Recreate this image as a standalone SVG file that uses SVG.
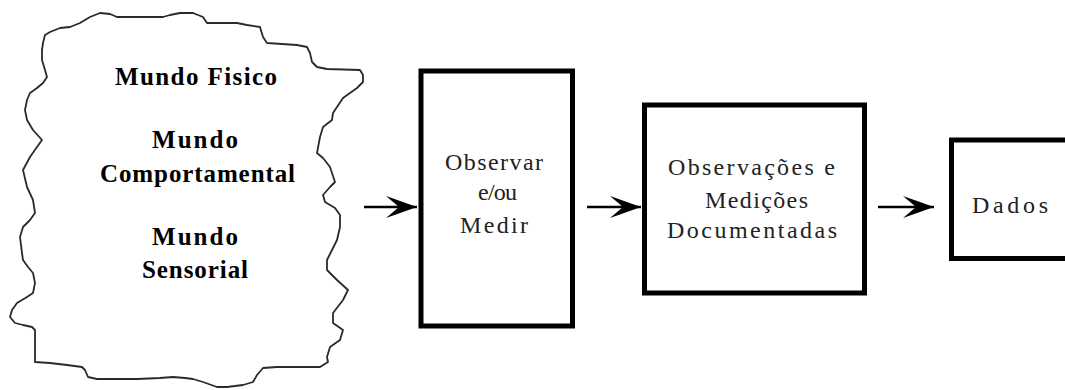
<svg xmlns="http://www.w3.org/2000/svg" width="1065" height="390" viewBox="0 0 1065 390">
  <style>
    .cloud { fill: none; stroke: #2a2a2a; stroke-width: 1.8; stroke-linejoin: round; stroke-linecap: round; }
    .box { fill: #fff; stroke: #000; stroke-width: 5; }
    .edge { stroke: #000; stroke-width: 2.6; fill: none; }
  </style>
  <defs>
    <marker id="arrowhead" markerUnits="userSpaceOnUse" markerWidth="34" markerHeight="26" refX="0" refY="0" viewBox="-32 -13 34 26" orient="auto" overflow="visible">
      <path d="M0,0 L-31,-11 L-18,0 L-31,11 Z" fill="#000"/>
    </marker>
  </defs>

  <rect width="1065" height="390" fill="#fff"/>

  <!-- irregular region holding the three worlds -->
  <g id="mundos" font-family="Liberation Serif, DejaVu Serif, Times New Roman, serif" font-size="25" font-weight="bold" fill="#000">
    <polygon class="cloud" points="100,13 110,14 117,17 163,17 170,15 180,13 193,13 203,17 207,23 237,23 247,25 260,27 263,37 267,43 297,45 307,47 310,53 312,62 317,67 327,69 360,70 363,75 363,82 357,88 350,93 343,98 337,107 333,113 332,120 323,127 320,137 317,153 323,158 330,167 335,182 330,187 323,195 325,202 335,208 340,215 340,227 337,240 332,250 327,260 327,270 337,280 348,290 343,300 333,313 333,323 343,330 340,340 330,347 327,357 328,362 320,367 277,367 263,368 257,375 253,382 243,385 227,387 217,387 203,382 193,379 185,378 173,377 160,378 137,379 97,379 88,377 85,370 82,367 67,365 50,363 35,362 35,330 32,327 23,325 15,323 10,317 12,310 17,303 27,297 33,293 35,283 33,273 28,267 23,260 22,253 20,237 23,227 30,220 35,213 33,200 27,187 23,170 30,157 37,147 42,140 33,130 27,120 25,110 27,100 30,93 37,88 43,83 47,77 45,70 42,60 42,50 43,43 45,35 50,32 60,28 70,27 80,23 90,17"/>
    <text x="115" y="85" textLength="162" lengthAdjust="spacing">Mundo Fisico</text>
    <text x="152" y="148" textLength="86" lengthAdjust="spacing">Mundo</text>
    <text x="100" y="182" textLength="195" lengthAdjust="spacing">Comportamental</text>
    <text x="152" y="245" textLength="86" lengthAdjust="spacing">Mundo</text>
    <text x="142" y="278" textLength="106" lengthAdjust="spacing">Sensorial</text>
  </g>

  <g id="observar" font-family="Liberation Serif, DejaVu Serif, Times New Roman, serif" font-size="24" fill="#222">
    <rect class="box" x="421" y="71" width="151.5" height="255"/>
    <text x="445" y="170" textLength="98" lengthAdjust="spacing">Observar</text>
    <text x="478" y="200" textLength="39" lengthAdjust="spacing">e/ou</text>
    <text x="460" y="233" textLength="68" lengthAdjust="spacing">Medir</text>
  </g>

  <g id="observacoes" font-family="Liberation Serif, DejaVu Serif, Times New Roman, serif" font-size="24" fill="#222">
    <rect class="box" x="644.5" y="105" width="220" height="188"/>
    <text x="668" y="175" textLength="167" lengthAdjust="spacing">Observações e</text>
    <text x="705" y="208" textLength="103" lengthAdjust="spacing">Medições</text>
    <text x="667" y="238" textLength="170" lengthAdjust="spacing">Documentadas</text>
  </g>

  <g id="dados" font-family="Liberation Serif, DejaVu Serif, Times New Roman, serif" font-size="24" fill="#222">
    <rect class="box" x="951.5" y="140" width="130" height="118.5"/>
    <text x="972" y="213" textLength="76" lengthAdjust="spacing">Dados</text>
  </g>

  <g id="connectors">
    <line class="edge" x1="364" y1="207" x2="417" y2="207" marker-end="url(#arrowhead)"/>
    <line class="edge" x1="587" y1="207" x2="641" y2="207" marker-end="url(#arrowhead)"/>
    <line class="edge" x1="878" y1="207" x2="934" y2="207" marker-end="url(#arrowhead)"/>
  </g>
</svg>
